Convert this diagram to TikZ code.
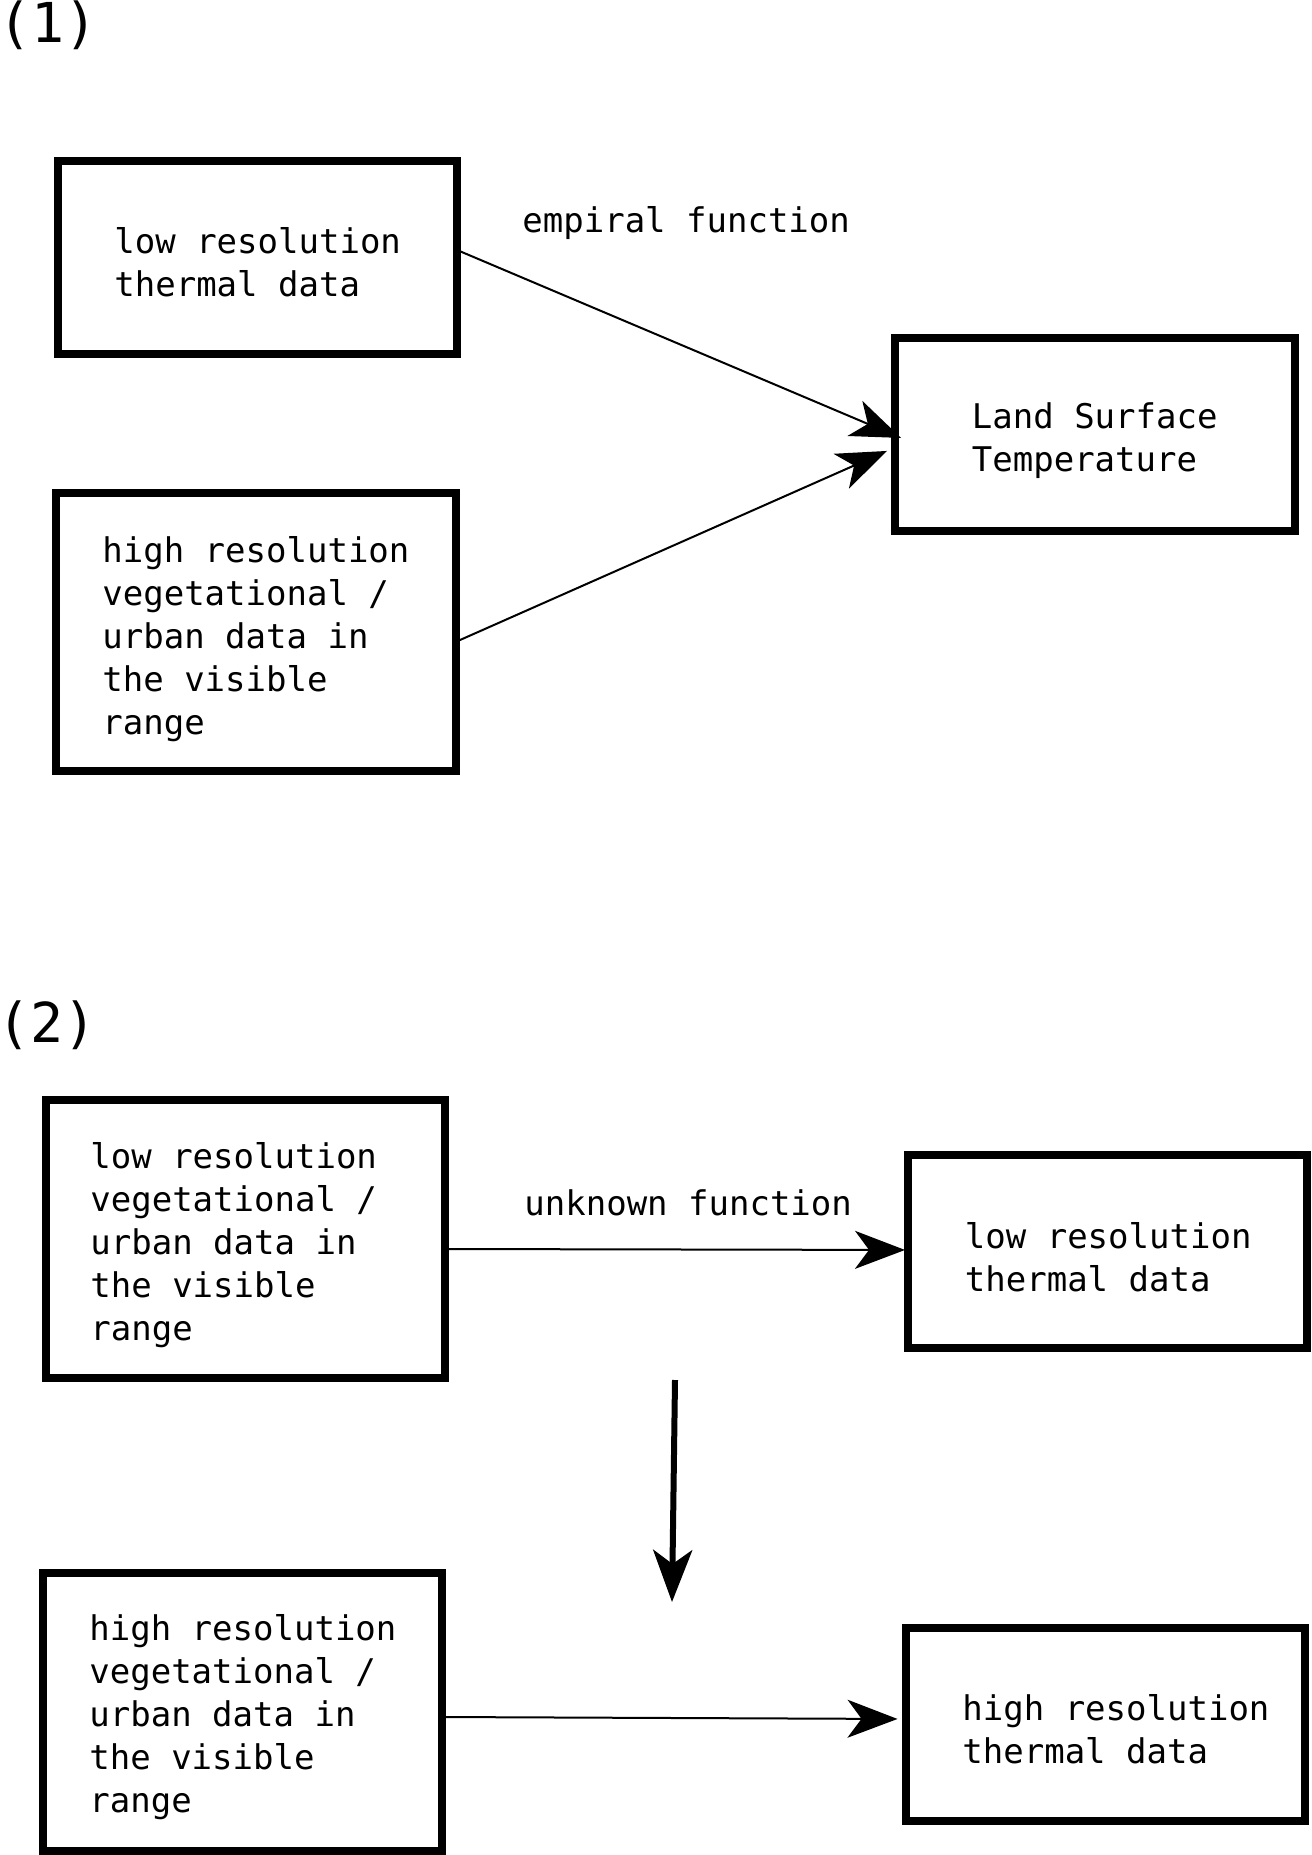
\documentclass[tikz,border=0pt]{standalone}
\usepackage{fontspec}
\newfontfamily\dmono{DejaVu Sans Mono}
\usetikzlibrary{arrows.meta}
\begin{document}
\begin{tikzpicture}[x=0.5pt,y=-0.5pt,
  box/.style={draw, line width=4pt, minimum width=199.75pt, minimum height=96.5pt, inner sep=0pt, outer sep=0pt},
  boxtall/.style={box, minimum height=139pt},
  txt/.style={font=\dmono\fontsize{17}{21.5}\selectfont, align=left, inner sep=0pt, anchor=base west},
  lbl/.style={font=\dmono\fontsize{17}{21.5}\selectfont, inner sep=0pt, anchor=base west},
  sec/.style={font=\dmono\fontsize{27.5}{33}\selectfont, inner sep=0pt, anchor=base west},
  conn/.style={line width=1pt, -{Stealth[length=25pt,width=19pt,inset=7pt]}},
  bigarrow/.style={line width=3pt, -{Stealth[length=26pt,width=19.5pt,inset=7pt]}}]
\useasboundingbox (0,0) rectangle (1311,1855);
% section labels
\node[sec] (s1) at (-2,43) {(1)};
\node[sec] (s2) at (-3,1042) {(2)};
% section 1 boxes
\node[box] (b1) at (257.25,257.5) {};
\node[boxtall] (b2) at (255.75,632) {};
\node[box] (lst) at (1094.75,434.75) {};
% text (anchor = baseline of the last line)
\node[txt] (b1t) at (114,297) {low resolution\\thermal data};
\node[txt] (b2t) at (102,734) {high resolution\\vegetational /\\urban data in\\the visible\\range};
\node[txt] (lstt) at (971.5,471.5) {Land Surface\\Temperature};
\node[lbl] (emp) at (522,233) {empiral function};
\draw[conn] ([yshift=3.75pt]b1.east) -- ([xshift=3pt,yshift=-1.6pt]lst.west);
\draw[conn] ([yshift=-5pt]b2.east) -- ([xshift=-4pt,yshift=-8.1pt]lst.west);
% section 2 boxes
\node[boxtall] (ba) at (245.5,1239) {};
\node[box] (bb) at (1107.25,1251.75) {};
\node[boxtall] (bc) at (242.5,1711.5) {};
\node[box] (bd) at (1105.25,1724.75) {};
\node[txt] (bat) at (90,1340) {low resolution\\vegetational /\\urban data in\\the visible\\range};
\node[txt] (bbt) at (964.5,1291) {low resolution\\thermal data};
\node[txt] (bct) at (89,1812) {high resolution\\vegetational /\\urban data in\\the visible\\range};
\node[txt] (bdt) at (962,1763) {high resolution\\thermal data};
\node[lbl] (unk) at (524,1215) {unknown function};
\draw[conn] ([yshift=-5pt]ba.east) -- ([xshift=-1.25pt,yshift=0.9pt]bb.west);
\draw[conn] ([yshift=-2.75pt]bc.east) -- ([xshift=-4pt,yshift=2.9pt]bd.west);
\coordinate (vtop) at (675,1380);
\coordinate (vbot) at (672,1602);
\draw[bigarrow] (vtop) -- (vbot);
\end{tikzpicture}
\end{document}
